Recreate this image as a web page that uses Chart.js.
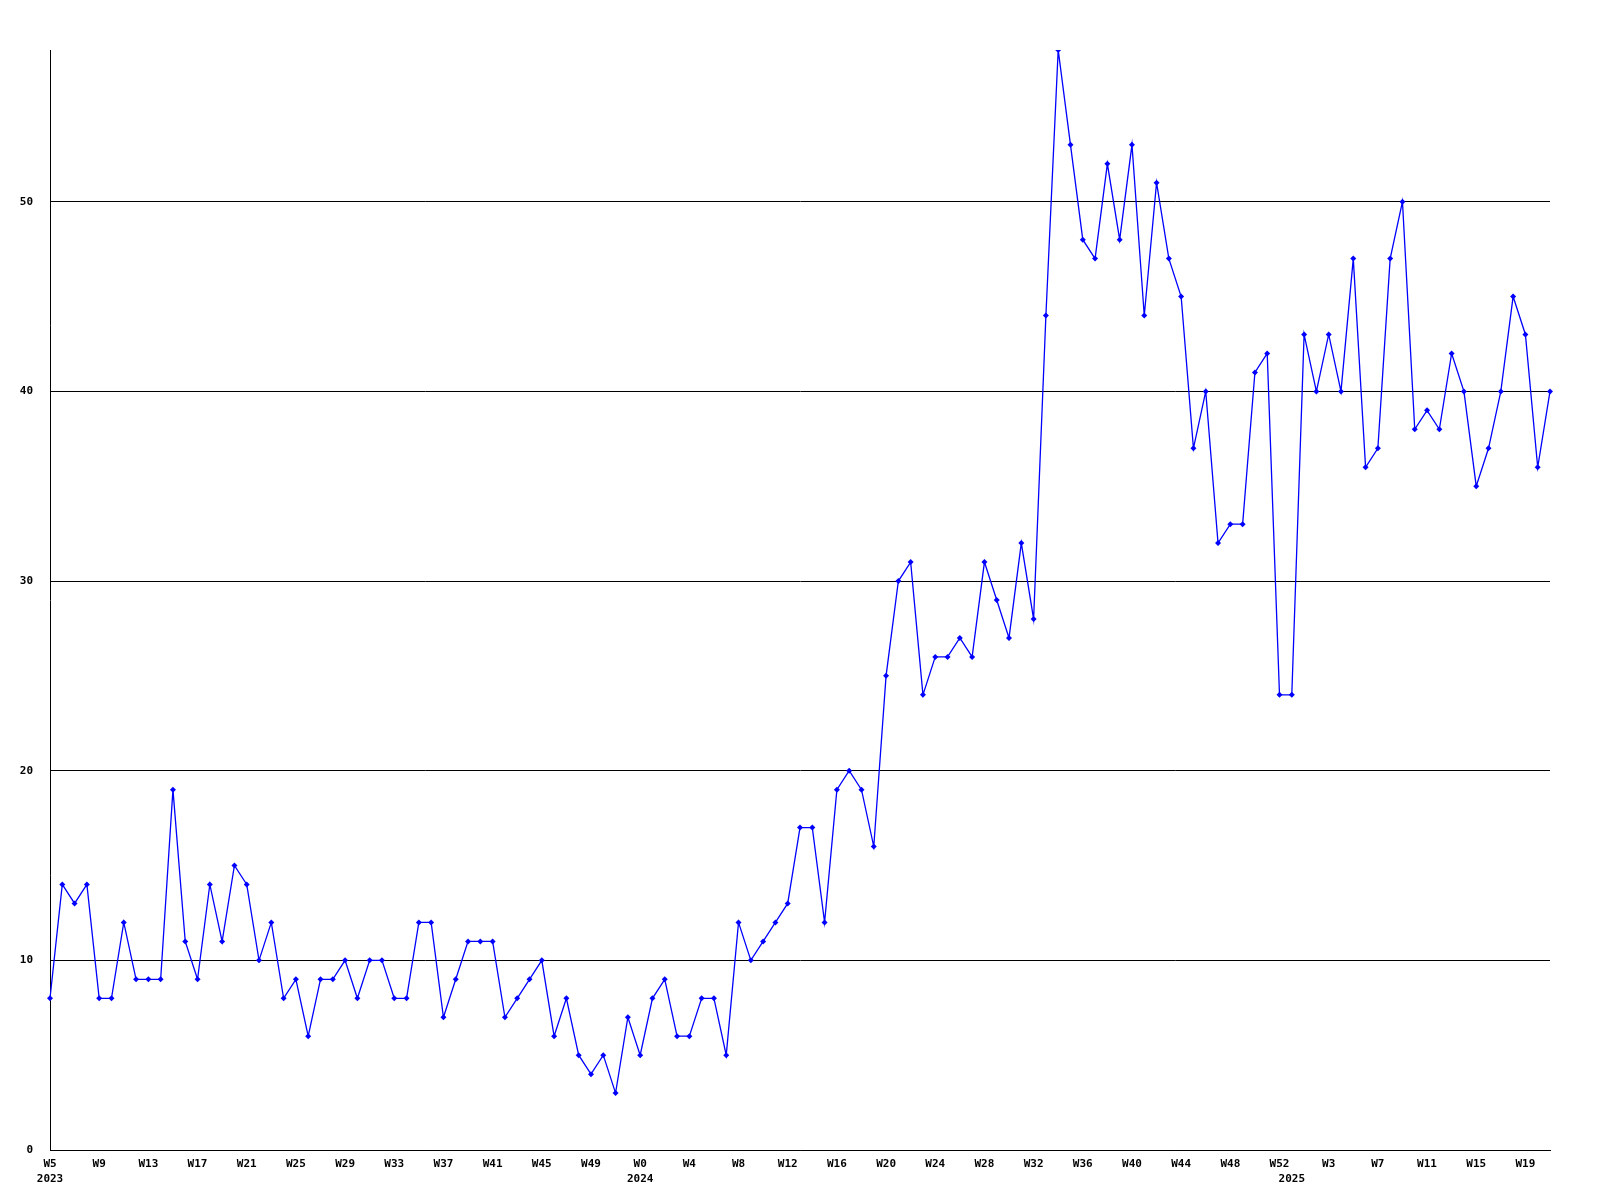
<!DOCTYPE html>
<html lang="en">
<head>
    <meta charset="UTF-8">
    <title>Weekly chart</title>
    <style>
        body {
            margin: 0;
            background-color: #ffffff;
        }
        canvas {
            display: block;
        }
    </style>
</head>
<body>
    <canvas id="myChart" width="1600" height="1200"></canvas>
    <script src="https://cdn.jsdelivr.net/npm/chart.js"></script>
    <script>
        // Week labels, one per point (2023 W5 .. 2025 W21)
        const weekLabels = [
            'W5','W6','W7','W8','W9','W10','W11','W12','W13','W14','W15','W16','W17','W18','W19','W20',
            'W21','W22','W23','W24','W25','W26','W27','W28','W29','W30','W31','W32','W33','W34','W35','W36',
            'W37','W38','W39','W40','W41','W42','W43','W44','W45','W46','W47','W48','W49','W50','W51','W52',
            'W0','W1','W2','W3','W4','W5','W6','W7','W8','W9','W10','W11','W12','W13','W14','W15','W16',
            'W17','W18','W19','W20','W21','W22','W23','W24','W25','W26','W27','W28','W29','W30','W31','W32',
            'W33','W34','W35','W36','W37','W38','W39','W40','W41','W42','W43','W44','W45','W46','W47','W48',
            'W49','W50','W51','W52',
            'W0','W1','W2','W3','W4','W5','W6','W7','W8','W9','W10','W11','W12','W13','W14','W15','W16',
            'W17','W18','W19','W20','W21'
        ];

        // Year shown under the first week of each year
        const yearLabels = ['2023', '2024', '2025'];
        const yearStartIndex = [0, 48, 101];

        // Values per week
        const values = [
            8, 14, 13, 14, 8, 8, 12, 9, 9, 9,
            19, 11, 9, 14, 11, 15, 14, 10, 12, 8,
            9, 6, 9, 9, 10, 8, 10, 10, 8, 8,
            12, 12, 7, 9, 11, 11, 11, 7, 8, 9,
            10, 6, 8, 5, 4, 5, 3, 7, 5, 8,
            9, 6, 6, 8, 8, 5, 12, 10, 11, 12,
            13, 17, 17, 12, 19, 20, 19, 16, 25, 30,
            31, 24, 26, 26, 27, 26, 31, 29, 27, 32,
            28, 44, 58, 53, 48, 47, 52, 48, 53, 44,
            51, 47, 45, 37, 40, 32, 33, 33, 41, 42,
            24, 24, 43, 40, 43, 40, 47, 36, 37, 47,
            50, 38, 39, 38, 42, 40, 35, 37, 40, 45,
            43, 36, 40
        ];

        const yTickValues = [0, 10, 20, 30, 40, 50];
        const xTickEvery = 4;

        Chart.defaults.font.family = '"DejaVu Sans Mono", monospace';
        Chart.defaults.font.weight = 'bold';
        Chart.defaults.font.size = 11;
        Chart.defaults.color = '#000000';

        const ctx = document.getElementById('myChart').getContext('2d');

        const config = {
            type: 'line',
            data: {
                labels: weekLabels,
                datasets: [{
                    data: values,
                    borderColor: '#0000ff',
                    backgroundColor: '#0000ff',
                    borderWidth: 1.3,
                    tension: 0,
                    fill: false,
                    pointStyle: 'rectRot',
                    pointRadius: 3,
                    pointBorderWidth: 0
                }]
            },
            options: {
                responsive: false,
                animation: false,
                devicePixelRatio: 1,
                layout: {
                    padding: { top: 50, right: 50, left: 0, bottom: 0 }
                },
                plugins: {
                    legend: { display: false },
                    tooltip: { enabled: false }
                },
                scales: {
                    x: {
                        type: 'category',
                        offset: false,
                        afterFit: (scale) => { scale.height = 50; },
                        grid: { display: false },
                        border: { display: true, color: '#000000', width: 1 },
                        ticks: {
                            autoSkip: false,
                            maxRotation: 0,
                            minRotation: 0,
                            padding: -1,
                            font: { lineHeight: 1.36 },
                            callback: function (value, index) {
                                const week = index % xTickEvery === 0 ? weekLabels[index] : '';
                                const y = yearStartIndex.indexOf(index);
                                if (y >= 0) return [week, yearLabels[y]];
                                return week || null;
                            }
                        }
                    },
                    y: {
                        min: 0,
                        max: 58,
                        afterFit: (scale) => { scale.width = 50; },
                        afterBuildTicks: (scale) => {
                            scale.ticks = yTickValues.map(v => ({ value: v }));
                        },
                        grid: {
                            color: '#000000',
                            lineWidth: 1,
                            drawTicks: false
                        },
                        border: { display: true, color: '#000000', width: 1 },
                        ticks: {
                            padding: 17
                        }
                    }
                }
            }
        };

        const myChart = new Chart(ctx, config);
    </script>
</body>
</html>
